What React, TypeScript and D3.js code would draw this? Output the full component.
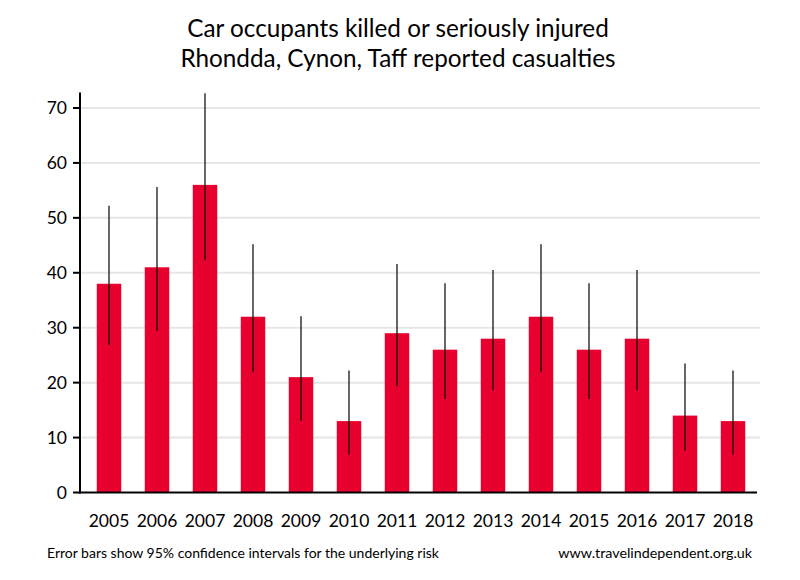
import React from "react";
import * as d3 from "d3";

const years = ["2005","2006","2007","2008","2009","2010","2011","2012","2013","2014","2015","2016","2017","2018"];
const values = [38, 41, 56, 32, 21, 13, 29, 26, 28, 32, 26, 28, 14, 13];
const lower = [26.9, 29.4, 42.3, 21.9, 13.0, 6.9, 19.4, 17.0, 18.6, 21.9, 17.0, 18.6, 7.6, 6.9];
const upper = [52.2, 55.6, 72.7, 45.2, 32.1, 22.2, 41.6, 38.1, 40.5, 45.2, 38.1, 40.5, 23.5, 22.2];
const yTicks = [0, 10, 20, 30, 40, 50, 60, 70];
const titleLines = ["Car occupants killed or seriously injured", "Rhondda, Cynon, Taff reported casualties"];
const footLeft = "Error bars show 95% confidence intervals for the underlying risk";
const footRight = "www.travelindependent.org.uk";

const W = 800, H = 580;
const FONT = "Lato, 'Open Sans', sans-serif";

export default function App() {
  const x = d3.scaleBand<string>().domain(years).range([85, 757]).paddingInner(0.49).paddingOuter(0.245);
  const y = d3.scaleLinear().domain([0, 72.8]).range([492.5, 92.6]);
  const axisLeft = 80;
  const gridRight = 760;
  return (
    <svg width={W} height={H} style={{ position: "absolute", left: 0, top: 0, background: "#fff" }}>
      {titleLines.map((t, i) => (
        <text key={i} x={398} y={37 + i * 30} textAnchor="middle" fontFamily={FONT} fontSize={24.3} fill="#000">{t}</text>
      ))}
      {yTicks.filter(t => t > 0).map(t => (
        <line key={"g" + t} x1={axisLeft} x2={gridRight} y1={y(t)} y2={y(t)} stroke="#e6e6e6" strokeWidth={2} />
      ))}
      {years.map((yr, i) => (
        <rect key={"b" + yr} x={x(yr)} y={y(values[i])} width={x.bandwidth()} height={y(0) - y(values[i])} fill="#e8002f" />
      ))}
      {years.map((yr, i) => {
        const cx = (x(yr) as number) + x.bandwidth() / 2;
        return <line key={"e" + yr} x1={cx} x2={cx} y1={y(lower[i])} y2={y(upper[i])} stroke="#000" strokeWidth={1.2} />;
      })}
      <line x1={axisLeft} x2={axisLeft} y1={y.range()[1]} y2={y(0) + 1} stroke="#000" strokeWidth={2} />
      <line x1={axisLeft - 1} x2={757} y1={y(0)} y2={y(0)} stroke="#000" strokeWidth={2} />
      {yTicks.map(t => (
        <g key={"t" + t}>
          <line x1={axisLeft - 7} x2={axisLeft} y1={y(t)} y2={y(t)} stroke="#000" strokeWidth={2} />
          <text x={67} y={y(t)} dy="0.35em" textAnchor="end" fontFamily={FONT} fontSize={17.5} fill="#000">{t}</text>
        </g>
      ))}
      {years.map(yr => (
        <text key={"x" + yr} x={(x(yr) as number) + x.bandwidth() / 2} y={527} textAnchor="middle" fontFamily={FONT} fontSize={17.5} fill="#000">{yr}</text>
      ))}
      <text x={47} y={558} fontFamily={FONT} fontSize={14} fill="#000">{footLeft}</text>
      <text x={752} y={558} textAnchor="end" fontFamily={FONT} fontSize={14.3} fill="#000">{footRight}</text>
    </svg>
  );
}
